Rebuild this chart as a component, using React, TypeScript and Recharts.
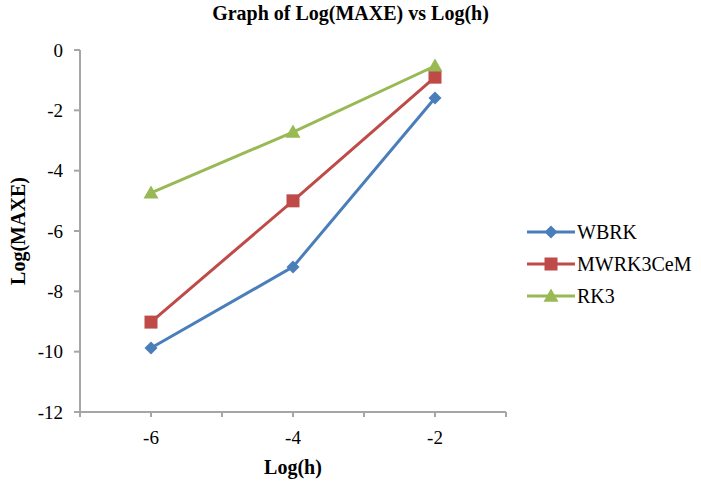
import { LineChart, Line, XAxis, YAxis } from 'recharts';

const logH = [-6, -4, -2];
const wbrk = [-9.88, -7.19, -1.59];
const mwrk3cem = [-9.02, -5.0, -0.9];
const rk3 = [-4.74, -2.72, -0.53];

const xTicks = [-7, -6, -5, -4, -3, -2, -1];
const yTicks = [0, -2, -4, -6, -8, -10, -12];

const series = [
  { key: 'wbrk', name: 'WBRK', color: '#4A7EBB', shape: 'diamond' },
  { key: 'mwrk', name: 'MWRK3CeM', color: '#BE4B48', shape: 'square' },
  { key: 'rk3', name: 'RK3', color: '#98B954', shape: 'triangle' },
];

const data = logH.map((h, i) => ({ h, wbrk: wbrk[i], mwrk: mwrk3cem[i], rk3: rk3[i] }));

const font = '"Liberation Serif", "Times New Roman", serif';
const tickStyle = { fontFamily: font, fontSize: 19, fill: '#000' };

function marker(shape: string, color: string, cx: number, cy: number, key?: string) {
  if (shape === 'diamond') {
    const r = 6.5;
    return <path key={key} d={`M${cx},${cy - r}L${cx + r},${cy}L${cx},${cy + r}L${cx - r},${cy}Z`} fill={color} />;
  }
  if (shape === 'square') {
    const r = 6.5;
    return <rect key={key} x={cx - r} y={cy - r} width={r * 2} height={r * 2} fill={color} />;
  }
  const r = 7.5;
  return <path key={key} d={`M${cx},${cy - r}L${cx + r},${cy + r * 0.75}L${cx - r},${cy + r * 0.75}Z`} fill={color} />;
}

const YTick = (props: any) => (
  <text x={props.x} y={props.y} textAnchor="end" dominantBaseline="central" style={tickStyle}>
    {props.payload.value}
  </text>
);

const XTick = (props: any) => {
  const v = props.payload.value;
  if (v % 2 !== 0) return <g />;
  return (
    <text x={props.x} y={props.y} textAnchor="middle" dominantBaseline="central" style={tickStyle}>
      {v}
    </text>
  );
};

export default function App() {
  return (
    <div style={{ position: 'absolute', left: 0, top: 0, width: 701, height: 485, background: '#fff', fontFamily: font }}>
      <div
        style={{
          position: 'absolute',
          left: 0,
          width: 701,
          top: 2,
          textAlign: 'center',
          fontWeight: 'bold',
          fontSize: 20,
        }}
      >
        Graph of Log(MAXE) vs Log(h)
      </div>
      <div
        style={{
          position: 'absolute',
          left: 80,
          width: 426,
          top: 456,
          textAlign: 'center',
          fontWeight: 'bold',
          fontSize: 20,
        }}
      >
        Log(h)
      </div>
      <div style={{ position: 'absolute', left: 527, top: 216, fontSize: 20, color: '#000' }}>
        {series.map((s) => (
          <div key={s.key} style={{ display: 'flex', alignItems: 'center', height: 32 }}>
            <svg width={50} height={20}>
              <line x1={0} y1={10} x2={48} y2={10} stroke={s.color} strokeWidth={3} />
              {marker(s.shape, s.color, 24, 10)}
            </svg>
            <span>{s.name}</span>
          </div>
        ))}
      </div>
      <div style={{ position: 'absolute', left: 0, top: 0 }}>
        <LineChart width={701} height={485} data={data} margin={{ top: 50, right: 195, bottom: 43, left: 0 }}>
          <XAxis
            dataKey="h"
            type="number"
            domain={[-7, -1]}
            ticks={xTicks}
            stroke="#a6a6a6"
            strokeWidth={2}
            tickSize={5}
            tickMargin={20}
            tick={XTick}
          />
          <YAxis
            type="number"
            domain={[-12, 0]}
            ticks={yTicks}
            width={80}
            stroke="#a6a6a6"
            strokeWidth={2}
            tickSize={6}
            tickMargin={11}
            tick={YTick}
            label={{
              value: 'Log(MAXE)',
              angle: -90,
              position: 'insideLeft',
              offset: 18,
              style: { fontFamily: font, fontWeight: 'bold', fontSize: 20, fill: '#000', textAnchor: 'middle' },
            }}
          />
          {series.map((s) => (
            <Line
              key={s.key}
              dataKey={s.key}
              name={s.name}
              stroke={s.color}
              strokeWidth={3}
              isAnimationActive={false}
              dot={(p: any) => marker(s.shape, s.color, p.cx, p.cy, `${s.key}-${p.index}`)}
              activeDot={false}
            />
          ))}
        </LineChart>
      </div>
    </div>
  );
}
